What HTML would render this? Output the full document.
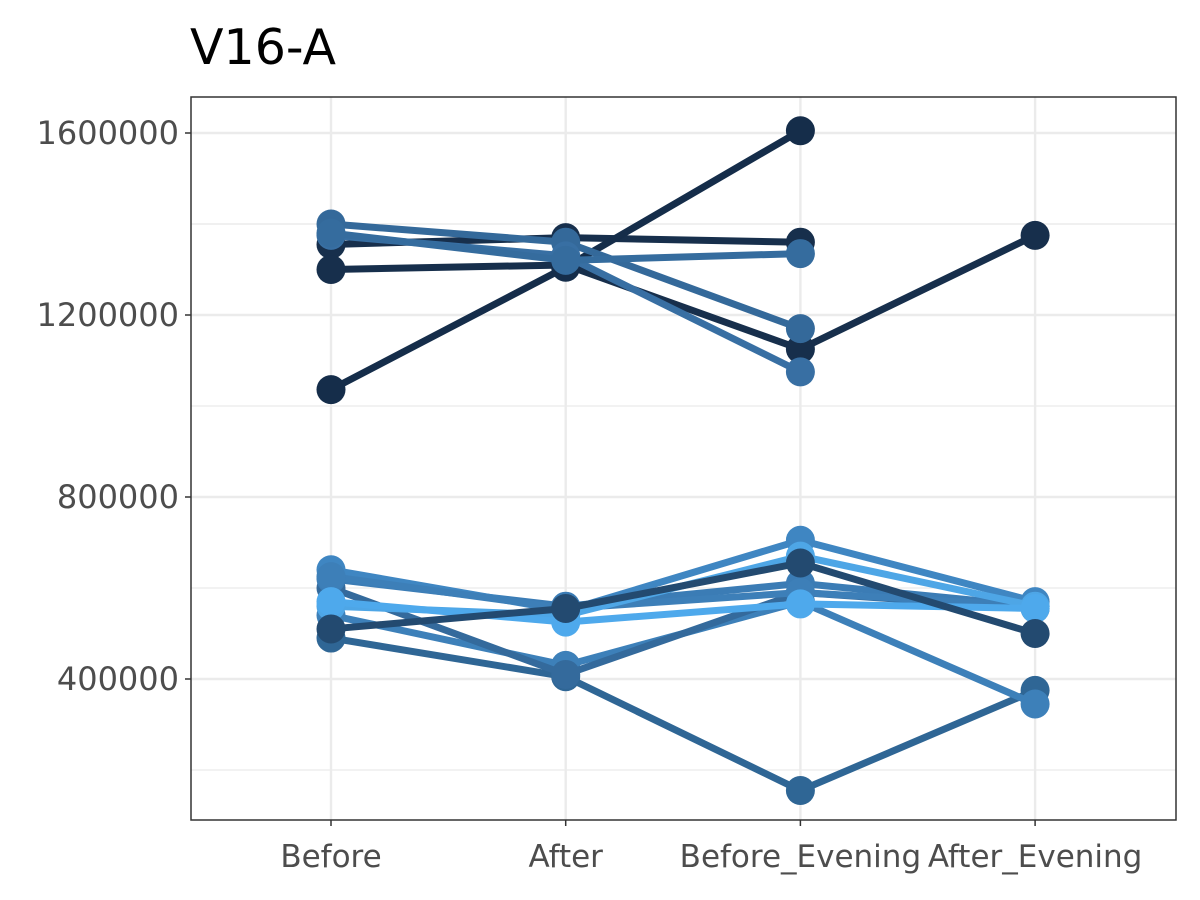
<!DOCTYPE html>
<html><head><meta charset="utf-8"><style>body{margin:0;background:#fff}svg{display:block}text{font-family:"DejaVu Sans","Liberation Sans",sans-serif}</style></head>
<body>
<svg id="c" width="1200" height="900"></svg>
<script>
const categories=["Before","After","Before_Evening","After_Evening"];
const yTicks=[400000,800000,1200000,1600000];
const yTickLabels=["400000","800000","1200000","1600000"];
const s1=[1036000,1305000,1605000,null];
const s2=[1300000,1310000,1125000,1375000];
const s3=[1355000,1370000,1360000,null];
const s4=[1400000,1360000,1170000,null];
const s5=[1375000,1330000,1075000,null];
const s6=[1380000,1320000,1335000,null];
const b1=[490000,405000,155000,375000];
const b2=[540000,430000,570000,345000];
const b3=[510000,555000,655000,500000];
const b4=[640000,550000,705000,570000];
const b5=[560000,540000,670000,560000];
const b6=[620000,560000,610000,560000];
const b7=[600000,410000,590000,555000];
const b8=[570000,525000,565000,555000];
const b9=[625000,555000,590000,560000];
const series=[s3,s2,s1,s4,s5,s6,b1,b2,b7,b6,b4,b9,b5,b8,b3];
const colors=["#172f4c","#172f4c","#152d4a","#34699a","#386fa3","#356c9e","#2f6695","#3d80b9","#346a9c","#3b7cb5","#3f86c2","#3d7fb8","#4ea6e6","#4ea9ec","#234a70"];
const NS="http://www.w3.org/2000/svg",svg=document.getElementById('c');
const L=191,R=1176,T=97,B=820;
const x=i=>331+i*234.7;
const y=v=>679-(v-400000)*182/400000;
function el(t,a,p){const e=document.createElementNS(NS,t);for(const k in a)e.setAttribute(k,a[k]);(p||svg).appendChild(e);return e;}
const g=el('g',{});
yTicks.forEach(v=>el('line',{x1:L,x2:R,y1:y(v-200000),y2:y(v-200000),stroke:'#ebebeb','stroke-width':1.2},g));
el('line',{x1:L,x2:R,y1:y(1400000),y2:y(1400000),stroke:'#ebebeb','stroke-width':1.2},g);
yTicks.forEach(v=>el('line',{x1:L,x2:R,y1:y(v),y2:y(v),stroke:'#ebebeb','stroke-width':2.4},g));
categories.forEach((c,i)=>el('line',{x1:x(i),x2:x(i),y1:T,y2:B,stroke:'#ebebeb','stroke-width':2.4},g));
series.forEach((s,k)=>{const sg=el('g',{});
 const pts=s.map((v,i)=>v==null?null:[x(i),y(v)]).filter(p=>p);
 el('polyline',{points:pts.map(p=>p.join(',')).join(' '),fill:'none',stroke:colors[k],'stroke-width':7},sg);
 pts.forEach(p=>{const c=el('circle',{cx:p[0],cy:p[1],r:14.5,fill:colors[k]},sg);});
});
const fr=el('rect',{x:L,y:T,width:R-L,height:B-T,fill:'none',stroke:'#333','stroke-width':1.5});
yTicks.forEach((v,i)=>{el('line',{x1:L-6,x2:L,y1:y(v),y2:y(v),stroke:'#333','stroke-width':1.5});
 const t=el('text',{x:L-12,y:y(v)+11,'text-anchor':'end','font-size':32,fill:'#4d4d4d'});t.textContent=yTickLabels[i];});
categories.forEach((c,i)=>{el('line',{x1:x(i),x2:x(i),y1:B,y2:B+6,stroke:'#333','stroke-width':1.5});
 const t=el('text',{x:x(i),y:867,'text-anchor':'middle','font-size':31,fill:'#4d4d4d'});t.textContent=c;});
const ti=el('text',{x:190,y:64,'font-size':49,fill:'#000'});ti.textContent='V16-A';
</script>
</body></html>
